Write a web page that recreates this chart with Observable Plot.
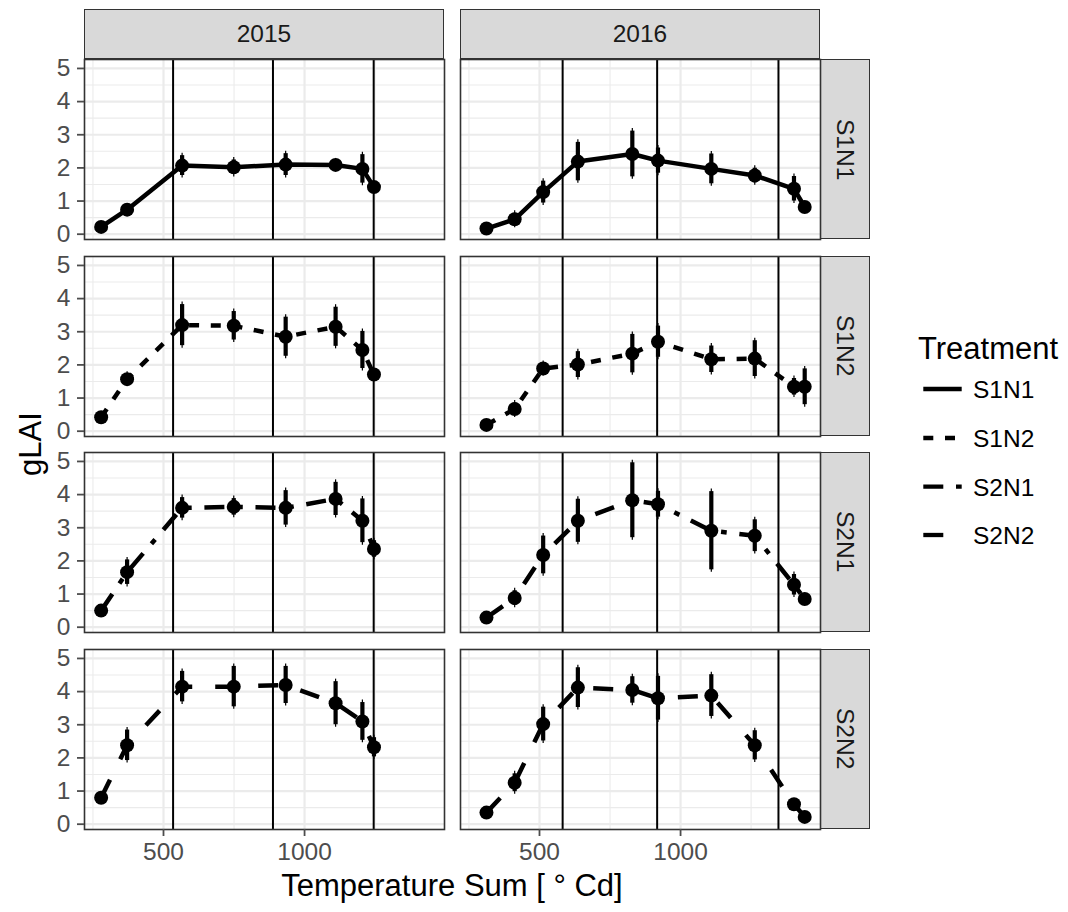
<!DOCTYPE html>
<html><head><meta charset="utf-8">
<script src="https://cdn.jsdelivr.net/npm/d3@7"></script>
<script src="https://cdn.jsdelivr.net/npm/@observablehq/plot@0.6"></script>
<style>
body{margin:0;background:#fff;}
#chart{position:relative;width:1068px;height:912px;background:#fff;font-family:"Liberation Sans",Arial,Helvetica,sans-serif;overflow:hidden;}
.strip{position:absolute;box-sizing:border-box;background:#D9D9D9;border:1.6px solid #333;color:#1A1A1A;font-size:24.5px;display:flex;align-items:center;justify-content:center;}
.strip.v span{writing-mode:vertical-rl;}
.panel{position:absolute;}
.overlay{position:absolute;left:0;top:0;}
</style></head><body><div id="chart"></div><script>
// ---- data ----
const years = ["2015", "2016"];
const treatments = ["S1N1", "S1N2", "S2N1", "S2N2"];
const tsum2015 = [279, 371, 566, 749, 933, 1110, 1205, 1246];
const tsum2016 = [312, 412, 513, 636, 829, 920, 1109, 1263, 1402, 1440];
const stages2015 = [534, 888, 1245];
const stages2016 = [582, 917, 1347];

const glaiS1N1_2015 = [0.22, 0.74, 2.07, 2.02, 2.10, 2.09, 1.97, 1.42];
const seS1N1_2015   = [0.05, 0.08, 0.30, 0.22, 0.33, 0.12, 0.43, 0.08];
const glaiS1N1_2016 = [0.17, 0.45, 1.27, 2.19, 2.42, 2.22, 1.97, 1.77, 1.37, 0.82];
const seS1N1_2016   = [0.05, 0.18, 0.33, 0.58, 0.69, 0.38, 0.45, 0.22, 0.37, 0.08];

const glaiS1N2_2015 = [0.42, 1.57, 3.20, 3.18, 2.85, 3.15, 2.45, 1.71];
const seS1N2_2015   = [0.05, 0.15, 0.62, 0.43, 0.59, 0.59, 0.56, 0.08];
const glaiS1N2_2016 = [0.19, 0.67, 1.89, 2.01, 2.34, 2.70, 2.17, 2.19, 1.34, 1.34];
const seS1N2_2016   = [0.05, 0.18, 0.15, 0.39, 0.58, 0.47, 0.40, 0.54, 0.25, 0.54];

const glaiS2N1_2015 = [0.50, 1.66, 3.60, 3.63, 3.60, 3.87, 3.21, 2.36];
const seS2N1_2015   = [0.05, 0.37, 0.31, 0.25, 0.52, 0.50, 0.66, 0.25];
const glaiS2N1_2016 = [0.29, 0.88, 2.18, 3.21, 3.83, 3.71, 2.91, 2.76, 1.28, 0.85];
const seS2N1_2016   = [0.05, 0.22, 0.57, 0.65, 1.13, 0.39, 1.18, 0.48, 0.31, 0.08];

const glaiS2N2_2015 = [0.80, 2.38, 4.15, 4.15, 4.20, 3.65, 3.10, 2.32];
const seS2N2_2015   = [0.05, 0.46, 0.46, 0.61, 0.56, 0.65, 0.57, 0.29];
const glaiS2N2_2016 = [0.35, 1.25, 3.02, 4.12, 4.05, 3.80, 3.88, 2.38, 0.60, 0.22];
const seS2N2_2016   = [0.05, 0.27, 0.51, 0.60, 0.40, 0.66, 0.63, 0.44, 0.08, 0.05];

const xTicks = [500, 1000];
const xMinorTicks = [250, 750, 1250];
const yTicks = [0, 1, 2, 3, 4, 5];
const yMinorTicks = [0.5, 1.5, 2.5, 3.5, 4.5];
const xTitle = "Temperature Sum [ \u00B0 Cd]";
const yTitle = "gLAI";
const legendTitle = "Treatment";

// ---- tables built from the arrays ----
const glaiTable = {
  "S1N1|2015": [glaiS1N1_2015, seS1N1_2015], "S1N1|2016": [glaiS1N1_2016, seS1N1_2016],
  "S1N2|2015": [glaiS1N2_2015, seS1N2_2015], "S1N2|2016": [glaiS1N2_2016, seS1N2_2016],
  "S2N1|2015": [glaiS2N1_2015, seS2N1_2015], "S2N1|2016": [glaiS2N1_2016, seS2N1_2016],
  "S2N2|2015": [glaiS2N2_2015, seS2N2_2015], "S2N2|2016": [glaiS2N2_2016, seS2N2_2016]
};
const tsumTable = {"2015": tsum2015, "2016": tsum2016};
const stageTable = {"2015": stages2015, "2016": stages2016};

// ---- style / layout ----
const FONT = '"Liberation Sans", Arial, Helvetica, sans-serif';
const TICK_FS = 24.5, TITLE_FS = 31;
const dashes = {S1N1: undefined, S1N2: "10,11.7", S2N1: "20,12.7,5.7,12.7", S2N2: "20,23"};
const colX = [84, 460];
const PW = 360, PH = 180;
const rowY = [0, 1, 2, 3].map(r => 59.3 + 196.4 * r);
const ML = 70, MR = 10, MT = 10, MB = 50;
const xDomain = [220, 1496];
const yDomain = [-0.16, 5.27];

const chart = document.getElementById("chart");

// overlay for titles and legend
const ov = d3.select(chart).append("svg").attr("class", "overlay")
  .attr("width", 1068).attr("height", 912).style("font-family", FONT);

ov.append("text").attr("x", 452).attr("y", 885).attr("dy", "0.35em")
  .attr("text-anchor", "middle").attr("font-size", TITLE_FS).attr("fill", "black").text(xTitle);
ov.append("text").attr("transform", "translate(30,444) rotate(-90)").attr("dy", "0.35em")
  .attr("text-anchor", "middle").attr("font-size", TITLE_FS).attr("fill", "black").text(yTitle);

ov.append("text").attr("x", 918).attr("y", 359).attr("font-size", TITLE_FS).attr("fill", "black").text(legendTitle);
const keyY = [389, 438, 486.7, 535];
treatments.forEach((t, i) => {
  const l = ov.append("line").attr("x1", 923.3).attr("x2", 961.7).attr("y1", keyY[i]).attr("y2", keyY[i])
    .attr("stroke", "black").attr("stroke-width", 4.3).attr("stroke-linecap", "butt");
  if (dashes[t]) l.attr("stroke-dasharray", dashes[t]);
  ov.append("text").attr("x", 973).attr("y", keyY[i]).attr("dy", "0.36em")
    .attr("font-size", TICK_FS).attr("fill", "black").text(t);
});

// strips
years.forEach((yr, c) => {
  const d = document.createElement("div");
  d.className = "strip";
  Object.assign(d.style, {left: colX[c] + "px", top: "9.3px", width: PW + "px", height: "50px"});
  d.textContent = yr;
  chart.appendChild(d);
});
treatments.forEach((t, r) => {
  const d = document.createElement("div");
  d.className = "strip v";
  Object.assign(d.style, {left: (colX[1] + PW) + "px", top: rowY[r] + "px", width: "50px", height: PH + "px"});
  const s = document.createElement("span");
  s.textContent = t;
  d.appendChild(s);
  chart.appendChild(d);
});

// panels
treatments.forEach((t, r) => {
  years.forEach((yr, c) => {
    const xs = tsumTable[yr];
    const [vals, ses] = glaiTable[t + "|" + yr];
    const data = xs.map((x, i) => ({x, y: vals[i], lo: vals[i] - ses[i], hi: vals[i] + ses[i]}));
    const isLeft = c === 0, isBottom = r === treatments.length - 1;
    const marks = [
      Plot.ruleY(yMinorTicks, {stroke: "#EBEBEB", strokeWidth: 1.1}),
      Plot.ruleX(xMinorTicks, {stroke: "#EBEBEB", strokeWidth: 1.1}),
      Plot.ruleY(yTicks, {stroke: "#EBEBEB", strokeWidth: 2.2}),
      Plot.ruleX(xTicks, {stroke: "#EBEBEB", strokeWidth: 2.2}),
      Plot.ruleX(stageTable[yr], {stroke: "black", strokeWidth: 2}),
      Plot.line(data, {x: "x", y: "y", stroke: "black", strokeWidth: 4.5,
        strokeDasharray: dashes[t], strokeLinecap: "butt", strokeLinejoin: "round"}),
      Plot.ruleX(data, {x: "x", y1: "hi", y2: "lo", stroke: "black", strokeWidth: 1.2, insetTop: -2.5, insetBottom: -2.5}),
      Plot.ruleX(data, {x: "x", y1: "hi", y2: "lo", stroke: "black", strokeWidth: 4.2}),
      Plot.dot(data, {x: "x", y: "y", r: 7, fill: "black"}),
      Plot.frame({stroke: "#333", strokeWidth: 1.6})
    ];
    if (isLeft) marks.push(Plot.axisY({ticks: yTicks, tickSize: 7, tickPadding: 7, label: null,
      fontSize: TICK_FS, color: "#4D4D4D", strokeWidth: 1.8, tickFormat: d3.format("d")}));
    if (isBottom) marks.push(Plot.axisX({ticks: xTicks, tickSize: 7, tickPadding: 6, label: null,
      fontSize: TICK_FS, color: "#4D4D4D", strokeWidth: 1.8, tickFormat: d3.format("d")}));
    const p = Plot.plot({
      width: ML + PW + MR, height: MT + PH + MB,
      marginLeft: ML, marginRight: MR, marginTop: MT, marginBottom: MB,
      x: {domain: xDomain, axis: isBottom ? undefined : null},
      y: {domain: yDomain, axis: isLeft ? undefined : null},
      style: {background: "transparent", overflow: "visible", fontFamily: FONT, fontSize: TICK_FS + "px"},
      marks
    });
    const holder = document.createElement("div");
    holder.className = "panel";
    Object.assign(holder.style, {left: (colX[c] - ML) + "px", top: (rowY[r] - MT) + "px", width: (ML + PW + MR) + "px"});
    holder.appendChild(p);
    chart.appendChild(holder);
  });
});
</script></body></html>
